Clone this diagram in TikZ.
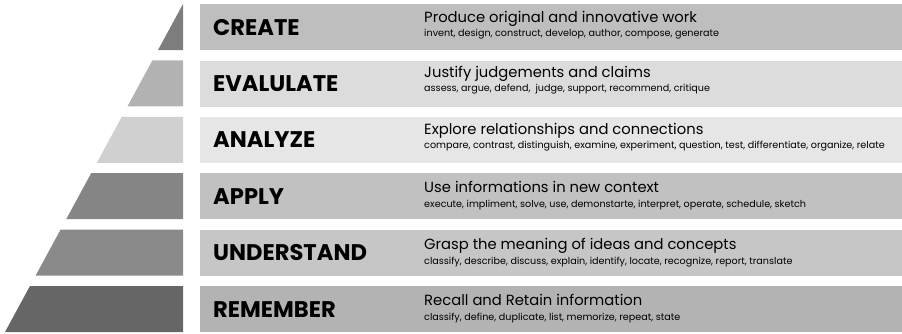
\documentclass[tikz,border=0pt]{standalone}
\usepackage{fontspec}
\setmainfont{Poppins}
\usetikzlibrary{positioning}
% greys of the pyramid steps and of the bars
\definecolor{triA}{RGB}{125,125,125}
\definecolor{triB}{RGB}{178,178,178}
\definecolor{triC}{RGB}{208,208,208}
\definecolor{triD}{RGB}{133,133,133}
\definecolor{triE}{RGB}{138,138,138}
\definecolor{triF}{RGB}{102,102,102}
\definecolor{barA}{RGB}{190,190,190}
\definecolor{barB}{RGB}{220,220,220}
\definecolor{barC}{RGB}{230,230,230}
\definecolor{barD}{RGB}{193,193,193}
\definecolor{barE}{RGB}{198,198,198}
\definecolor{barF}{RGB}{179,179,179}

\begin{document}
\begin{tikzpicture}[
    x=0.3mm, y=-0.3mm,
    bar/.style={
        rectangle, anchor=north west, inner sep=0pt,
        minimum width=210.6mm, minimum height=13.8mm
    },
    level/.style={anchor=base west, inner sep=0pt, font=\fontsize{19.3}{19.3}\selectfont\bfseries},
    head/.style={anchor=base west, inner sep=0pt, font=\fontsize{12.6}{12.6}\selectfont},
    verbs/.style={anchor=base west, inner sep=0pt, font=\fontsize{8.2}{8.2}\selectfont}
]
\useasboundingbox (0,0) rectangle (902,333);

% Pyramid steps (one slanted edge for all six)
\foreach \i/\shade in {0/triA, 1/triB, 2/triC, 3/triD, 4/triE, 5/triF} {
    \pgfmathsetmacro{\ytop}{4+56.4*\i}
    \pgfmathsetmacro{\ybot}{\ytop+46}
    \pgfmathsetmacro{\xtop}{183-0.5427*(\ytop-4)}
    \pgfmathsetmacro{\xbot}{183-0.5427*(\ybot-4)}
    \fill[\shade] (\xtop,\ytop) -- (183,\ytop) -- (183,\ybot) -- (\xbot,\ybot) -- cycle;
}

% Bars
\node[bar, fill=barA] (create)     at (200,4)     {};
\node[bar, fill=barB] (evaluate)   at (200,60.4)  {};
\node[bar, fill=barC] (analyze)    at (200,116.8) {};
\node[bar, fill=barD] (apply)      at (200,173.2) {};
\node[bar, fill=barE] (understand) at (200,229.6) {};
\node[bar, fill=barF] (remember)   at (200,286)   {};

% Level names
\node[level] (createL)     at (213,35)    {CREATE};
\node[level] (evaluateL)   at (213,91.4)  {EVALULATE};
\node[level] (analyzeL)    at (213,147.8) {ANALYZE};
\node[level] (applyL)      at (213,204.2) {APPLY};
\node[level] (understandL) at (213,260.6) {UNDERSTAND};
\node[level] (rememberL)   at (213,317)   {REMEMBER};

% Descriptions
\node[head]  (createH) at (424,22) {Produce original and innovative work};
\node[verbs] (createV) at (424,36) {invent, design, construct, develop, author, compose, generate};

\node[head]  (evaluateH) at (424,77.9) {Justify judgements and claims};
\node[verbs] (evaluateV) at (424,91.9) {assess, argue, defend, \ judge, support, recommend, critique};

\node[head]  (analyzeH) at (424,134.3) {Explore relationships and connections};
\node[verbs] (analyzeV) at (424,148.3) {compare, contrast, distinguish, examine, experiment, question, test, differentiate, organize, relate};

\node[head]  (applyH) at (424,192.7) {Use informations in new context};
\node[verbs] (applyV) at (424,207.7) {execute, impliment, solve, use, demonstarte, interpret, operate, schedule, sketch};

\node[head]  (understandH) at (424,249.1) {Grasp the meaning of ideas and concepts};
\node[verbs] (understandV) at (424,264.1) {classify, describe, discuss, explain, identify, locate, recognize, report, translate};

\node[head]  (rememberH) at (424,305.5) {Recall and Retain information};
\node[verbs] (rememberV) at (424,320.5) {classify, define, duplicate, list, memorize, repeat, state};

\end{tikzpicture}
\end{document}
